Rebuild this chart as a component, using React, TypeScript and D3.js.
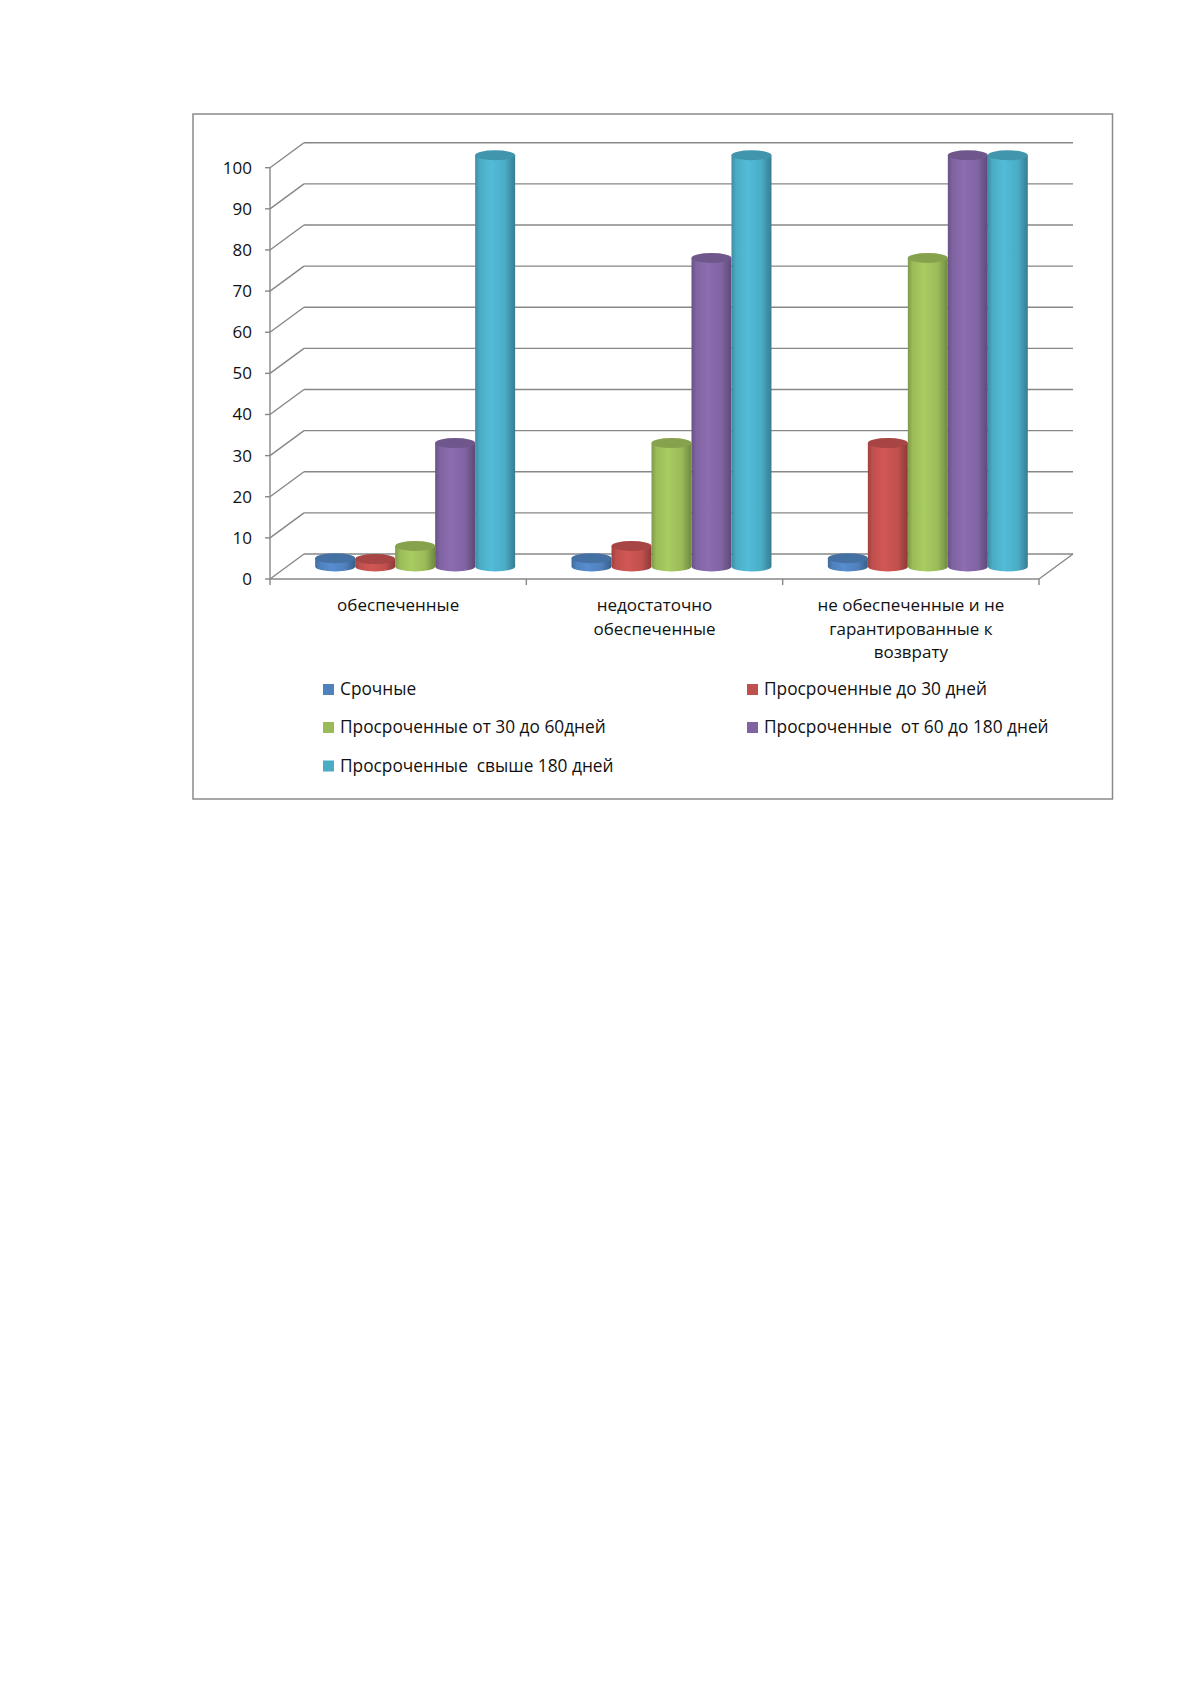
import * as React from "react";
import * as d3 from "d3";

// categories (x axis), wrapped the way the source chart wraps them
const categories = [
  "обеспеченные",
  "недостаточно обеспеченные",
  "не обеспеченные и не гарантированные к возврату",
];
const categoryLines = [
  ["обеспеченные"],
  ["недостаточно", "обеспеченные"],
  ["не обеспеченные и не", "гарантированные к", "возврату"],
];

const seriesNames = [
  "Срочные",
  "Просроченные до 30 дней",
  "Просроченные от 30 до 60дней",
  "Просроченные  от 60 до 180 дней",
  "Просроченные  свыше 180 дней",
];

// values per series, one per category
const srochnye = [2, 2, 2];
const do30 = [1.8, 5, 30];
const ot30do60 = [5, 30, 75];
const ot60do180 = [30, 75, 100];
const svyshe180 = [100, 100, 100];
const seriesValues = [srochnye, do30, ot30do60, ot60do180, svyshe180];

const yTicks = [0, 10, 20, 30, 40, 50, 60, 70, 80, 90, 100];

const palette = ["#4F81BD", "#C0504D", "#9BBB59", "#8064A2", "#4BACC6"];
const gridColor = "#878787";
const font = "'Open Sans', 'Noto Sans', sans-serif";

const App: React.FunctionComponent = () => {
  const W = 1191;
  const H = 1684;
  const plot = { left: 270, right: 1039, bottom: 579, top: 167.7 };
  const depth = { dx: 34, dy: -25 };

  const y = d3.scaleLinear().domain([0, 100]).range([plot.bottom, plot.top]);
  const x = d3
    .scaleBand<string>()
    .domain(categories)
    .range([plot.left, plot.right])
    .paddingInner(0.22)
    .paddingOuter(0.11);
  const xs = d3
    .scaleBand<string>()
    .domain(seriesNames)
    .range([0, x.bandwidth()]);
  const step = x.step();

  const rx = xs.bandwidth() / 2;
  const ry = 5;
  const midDx = depth.dx / 2;
  const midDy = depth.dy / 2;

  const cylinder = (x0: number, vTop: number) => {
    const x1 = x0 + 2 * rx;
    const yb = y(0) + midDy;
    const yt = y(vTop) + midDy;
    return `M${x0},${yt}L${x0},${yb}A${rx},${ry} 0 0 0 ${x1},${yb}L${x1},${yt}Z`;
  };

  const legendCols = [323, 747];
  const legendRows = [695, 733, 771.5];

  return (
    <svg
      width={W}
      height={H}
      style={{ position: "absolute", left: 0, top: 0, background: "#fff" }}
      fontFamily={font}
    >
      <defs>
        {palette.map((c, i) => {
          const base = d3.color(c)!;
          return (
            <linearGradient key={i} id={`body-${i}`} x1="0" x2="1" y1="0" y2="0">
              <stop offset="0%" stopColor={base.darker(0.55).formatHex()} />
              <stop offset="12%" stopColor={base.formatHex()} />
              <stop offset="40%" stopColor={base.brighter(0.25).formatHex()} />
              <stop offset="75%" stopColor={base.formatHex()} />
              <stop offset="100%" stopColor={base.darker(0.9).formatHex()} />
            </linearGradient>
          );
        })}
      </defs>

      <rect
        x={193}
        y={114}
        width={919.5}
        height={685}
        fill="#fff"
        stroke="#8a8a8a"
        strokeWidth={1.5}
      />

      {/* back wall gridlines, side-wall diagonals and y ticks */}
      <g stroke={gridColor} strokeWidth={1.4} fill="none">
        {yTicks.map(t => (
          <g key={t}>
            <line
              x1={plot.left + depth.dx}
              x2={plot.right + depth.dx}
              y1={y(t) + depth.dy}
              y2={y(t) + depth.dy}
            />
            <line
              x1={plot.left}
              y1={y(t)}
              x2={plot.left + depth.dx}
              y2={y(t) + depth.dy}
            />
            <line x1={plot.left - 5} x2={plot.left} y1={y(t)} y2={y(t)} />
          </g>
        ))}
        {/* floor edges */}
        <line x1={plot.left} x2={plot.right} y1={y(0)} y2={y(0)} />
        <line
          x1={plot.right}
          y1={y(0)}
          x2={plot.right + depth.dx}
          y2={y(0) + depth.dy}
        />
        <line x1={plot.left} x2={plot.left} y1={y(100)} y2={y(0)} />
        {d3.range(categories.length + 1).map(i => (
          <line
            key={i}
            x1={plot.left + i * step}
            x2={plot.left + i * step}
            y1={y(0)}
            y2={y(0) + 6}
          />
        ))}
      </g>

      {/* y labels */}
      <g fontSize={17} textAnchor="end" fill="#111">
        {yTicks.map(t => (
          <text key={t} x={252} y={y(t) + 6}>
            {t}
          </text>
        ))}
      </g>

      {/* cylinders */}
      <g>
        {categories.map((cat, ci) =>
          seriesNames.map((s, si) => {
            const v = seriesValues[si][ci];
            const x0 = (x(cat) as number) + (xs(s) as number) + midDx;
            const base = d3.color(palette[si])!;
            return (
              <g key={`${ci}-${si}`}>
                <path d={cylinder(x0, v)} fill={`url(#body-${si})`} />
                <ellipse
                  cx={x0 + rx}
                  cy={y(v) + midDy}
                  rx={rx}
                  ry={ry}
                  fill={base.darker(0.4).formatHex()}
                />
              </g>
            );
          })
        )}
      </g>

      {/* category labels */}
      <g fontSize={17} textAnchor="middle" fill="#111">
        {categories.map((cat, ci) =>
          categoryLines[ci].map((line, li) => (
            <text
              key={`${ci}-${li}`}
              x={(x(cat) as number) + x.bandwidth() / 2}
              y={611 + li * 23.5}
            >
              {line}
            </text>
          ))
        )}
      </g>

      {/* legend */}
      <g fontSize={17.3} fill="#111">
        {seriesNames.map((s, i) => {
          const lx = legendCols[i % 2];
          const ly = legendRows[Math.floor(i / 2)];
          return (
            <g key={s}>
              <rect x={lx} y={ly - 11} width={11} height={11} fill={palette[i]} />
              <text x={lx + 17} y={ly} style={{ whiteSpace: "pre" }}>
                {s}
              </text>
            </g>
          );
        })}
      </g>
    </svg>
  );
};

export default App;
